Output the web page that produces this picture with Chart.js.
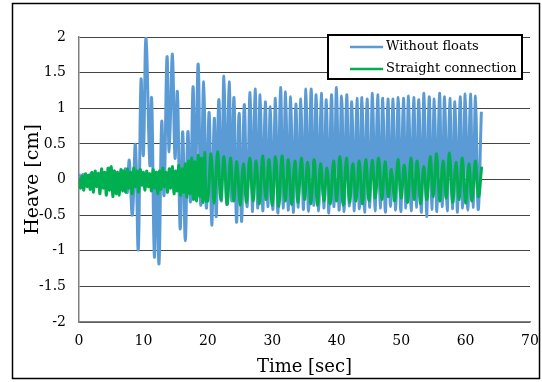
<!DOCTYPE html>
<html>
<head>
<meta charset="utf-8">
<script src="https://cdn.jsdelivr.net/npm/chart.js@4/dist/chart.umd.min.js"></script>
<style>
  html, body { margin: 0; padding: 0; background: #fff; }
  #wrap { position: relative; width: 542px; height: 382px; }
</style>
</head>
<body>
<div id="wrap"><canvas id="c" width="542" height="382"></canvas></div>
<script>
// ---- data ----
const seriesNames = ["Without floats", "Straight connection"];
const xTicks = [0, 10, 20, 30, 40, 50, 60, 70];
const yTicks = [-2, -1.5, -1, -0.5, 0, 0.5, 1, 1.5, 2];

// Without floats (time in s, heave in cm)
const blueT = [0,0.3,0.6,0.9,1.2,1.5,1.8,2.1,2.4,2.7,3.0,3.3,3.6,3.9,4.2,4.5,4.8,5.1,5.4,5.7,6.0,6.3,6.6,6.9,7.2,7.5,
  7.8,8.28,8.75,9.2,9.63,9.99,10.4,11.0,11.28,11.7,12.06,12.42,12.84,13.2,13.66,14.0,14.5,14.9,15.27,15.7,16.1,16.5,16.9,17.3,17.7,18.06,18.5,18.9,19.36,19.77,20.2,20.6,
  21.0,21.3,21.7,22.1,22.5,22.9,23.3,23.7,24.05,24.45,24.85,25.25,25.65,26.1,26.55,26.95,
  27.33,27.72,28.12,28.52,28.91,29.30,29.70,30.10,30.49,30.88,31.28,31.68,32.07,32.46,32.86,33.26,33.65,34.04,34.44,34.84,
  35.23,35.62,36.02,36.42,36.81,37.20,37.60,38.00,38.39,38.78,39.18,39.58,39.97,40.36,40.76,41.16,41.55,41.94,42.34,42.74,
  43.13,43.52,43.92,44.32,44.71,45.13,45.55,45.95,46.35,46.75,47.15,47.55,47.95,48.35,48.75,49.15,49.55,49.95,50.35,50.75,
  51.15,51.55,51.95,52.35,52.75,53.15,53.55,53.95,54.35,54.75,55.15,55.55,55.95,56.35,56.75,57.15,57.55,57.95,58.35,58.75,
  59.15,59.55,59.95,60.35,60.75,61.15,61.55,61.95,62.45];
const blueV = [0.08,-0.04,0.07,-0.06,0.05,-0.08,0.08,-0.05,0.06,-0.09,0.09,-0.08,0.10,-0.09,0.07,-0.12,0.09,-0.10,0.12,-0.08,0.10,-0.12,0.13,-0.10,0.15,-0.18,
  0.27,-0.50,0.49,-0.98,1.40,0.34,2.00,0.20,1.14,-1.08,0.10,-1.18,0.81,-0.22,1.72,0.39,1.76,0.30,1.23,-0.69,0.67,-0.86,0.67,-0.31,1.30,-0.05,1.62,-0.36,1.37,-0.40,0.94,-0.64,
  0.86,-0.52,1.12,-0.30,1.45,-0.35,1.37,-0.30,1.15,-0.60,0.93,-0.59,1.05,-0.38,1.22,-0.45,
  1.27,-0.40,1.19,-0.44,1.09,-0.38,1.02,-0.42,1.14,-0.47,1.29,-0.40,1.23,-0.43,1.16,-0.46,1.06,-0.39,1.13,-0.42,
  1.27,-0.45,1.27,-0.36,1.19,-0.44,1.21,-0.40,1.12,-0.47,1.19,-0.38,1.29,-0.43,1.17,-0.45,1.19,-0.37,1.09,-0.44,
  1.14,-0.41,1.15,-0.46,1.13,-0.39,1.21,-0.44,1.19,-0.40,1.14,-0.46,1.13,-0.38,1.13,-0.43,1.15,-0.45,1.14,-0.40,
  1.17,-0.44,1.15,-0.39,1.12,-0.46,1.21,-0.52,1.16,-0.42,1.13,-0.45,1.21,-0.38,1.16,-0.44,1.14,-0.41,1.09,-0.46,
  1.16,-0.40,1.20,-0.43,1.20,-0.39,1.17,-0.42,0.95];

// Straight connection (time in s, heave in cm)
const greenT = [0,0.25,0.5,0.75,1,1.25,1.5,1.75,2,2.25,2.5,2.75,3,3.25,3.5,3.75,4,4.25,4.5,4.75,
  5,5.25,5.5,5.75,6,6.25,6.5,6.75,7,7.25,7.5,7.75,8,8.25,8.5,8.75,9,9.25,9.5,9.75,
  10,10.25,10.5,10.75,11,11.25,11.5,11.75,12,12.25,12.5,12.75,13,13.25,13.5,13.75,14,14.25,14.5,14.75,
  15,15.25,15.5,15.75,16,16.25,16.5,16.75,17,17.25,17.5,17.75,18,18.25,18.5,18.75,19,19.25,19.5,19.75,
  20,20.5,21,21.5,22,22.5,23,23.5,24,24.5,25,25.5,26,26.5,27,27.5,28,28.5,29,29.5,
  30,30.5,31,31.5,32,32.5,33,33.5,34,34.5,35,35.5,36,36.5,37,37.5,38,38.5,39,39.5,
  40,40.5,41,41.5,42,42.5,43,43.5,44,44.5,45,45.5,46,46.5,47,47.5,48,48.5,49,49.5,
  50,50.5,51,51.5,52,52.5,53,53.5,54,54.5,55,55.5,56,56.5,57,57.5,58,58.5,59,59.5,
  60,60.5,61,61.5,62,62.5];
const greenV = [0.02,-0.12,0.05,-0.15,0.08,-0.10,0.06,-0.14,0.10,-0.18,0.12,-0.10,0.08,-0.20,0.15,-0.12,0.10,-0.22,0.16,-0.15,
  0.18,-0.24,0.12,-0.20,0.10,-0.22,0.14,-0.16,0.12,-0.18,0.15,-0.12,0.10,-0.20,0.16,-0.10,0.12,-0.18,0.14,-0.08,
  0.10,-0.15,0.12,-0.10,0.08,-0.16,0.14,-0.12,0.10,-0.20,0.12,-0.14,0.16,-0.10,0.10,-0.18,0.15,-0.12,0.18,-0.20,
  0.12,-0.16,0.20,-0.22,0.15,-0.18,0.22,-0.25,0.26,-0.20,0.30,-0.28,0.25,-0.30,0.34,-0.24,0.30,-0.32,0.38,-0.30,
  -0.30,0.36,-0.33,0.39,-0.28,0.32,-0.35,0.30,-0.30,0.25,-0.36,0.22,-0.32,0.30,-0.30,0.26,-0.34,0.33,-0.28,0.28,
  -0.36,0.32,-0.38,0.33,-0.30,0.28,-0.35,0.26,-0.32,0.30,-0.28,0.24,-0.34,0.28,-0.36,0.22,-0.30,0.16,-0.34,0.26,
  -0.30,0.32,-0.36,0.30,-0.32,0.22,-0.30,0.26,-0.34,0.28,-0.30,0.27,-0.26,0.30,-0.28,0.25,-0.24,0.14,-0.30,0.28,
  -0.26,0.20,-0.32,0.30,-0.28,0.26,-0.34,0.18,-0.28,0.32,-0.24,0.36,-0.30,0.26,-0.26,0.37,-0.32,0.24,-0.28,0.30,
  -0.33,0.22,-0.30,0.26,-0.24,0.18];

const blueColor = "#5B9BD5";
const greenColor = "#00B050";
const FONT = "'DejaVu Serif', 'Liberation Serif', serif";

function pts(t, v) { return t.map((x, i) => ({ x: x, y: v[i] })); }

const frameAndLegend = {
  id: 'frameAndLegend',
  afterDraw(chart) {
    const ctx = chart.ctx;
    ctx.save();
    // outer frame
    ctx.strokeStyle = '#000';
    ctx.lineWidth = 1.5;
    ctx.strokeRect(12.5, 3.5, 527, 375);
    // legend box
    const lx = 328, ly = 35, lw = 194, lh = 44;
    ctx.fillStyle = '#fff';
    ctx.fillRect(lx, ly, lw, lh);
    ctx.lineWidth = 2;
    ctx.strokeStyle = '#000';
    ctx.strokeRect(lx, ly, lw, lh);
    const items = [
      { text: chart.data.datasets[1].label, color: chart.data.datasets[1].borderColor, y: 47 },
      { text: chart.data.datasets[0].label, color: chart.data.datasets[0].borderColor, y: 69 }
    ];
    ctx.font = "13px " + FONT;
    ctx.textBaseline = 'middle';
    ctx.textAlign = 'left';
    items.forEach(it => {
      ctx.strokeStyle = it.color;
      ctx.lineWidth = 2.5;
      ctx.beginPath();
      ctx.moveTo(350, it.y);
      ctx.lineTo(383, it.y);
      ctx.stroke();
      ctx.fillStyle = '#000';
      ctx.fillText(it.text, 386, it.y);
    });
    ctx.restore();
  }
};

new Chart(document.getElementById('c'), {
  type: 'line',
  data: {
    datasets: [
      { label: seriesNames[1], data: pts(greenT, greenV), borderColor: greenColor, borderWidth: 3,
        pointRadius: 0, tension: 0.4, fill: false, order: 1 },
      { label: seriesNames[0], data: pts(blueT, blueV), borderColor: blueColor, borderWidth: 3,
        pointRadius: 0, tension: 0.4, fill: false, order: 2 }
    ]
  },
  options: {
    responsive: false,
    animation: false,
    devicePixelRatio: 1,
    layout: { padding: { left: 0, right: 12, top: 37, bottom: 0 } },
    plugins: { legend: { display: false }, tooltip: { enabled: false } },
    scales: {
      x: {
        type: 'linear', min: 0, max: 70,
        afterBuildTicks(s) { s.ticks = xTicks.map(v => ({ value: v })); },
        afterFit(s) { s.height = 60; s.paddingRight = 0; s.paddingLeft = 0; },
        grid: { display: false, drawTicks: false },
        border: { display: true, color: '#7f7f7f', width: 1.5 },
        ticks: { padding: 11, color: '#000', font: { family: FONT, size: 14 } },
        title: { display: true, text: 'Time [sec]', color: '#000', font: { family: FONT, size: 18 }, padding: { top: 0, bottom: 4 } }
      },
      y: {
        type: 'linear', min: -2, max: 2,
        afterBuildTicks(s) { s.ticks = yTicks.map(v => ({ value: v })); },
        afterFit(s) { s.width = 79; s.paddingTop = 0; s.paddingBottom = 0; },
        grid: { display: true, color: '#444', lineWidth: 1, drawTicks: false },
        border: { display: true, color: '#7f7f7f', width: 1.5 },
        ticks: { padding: 13, color: '#000', font: { family: FONT, size: 14 }, callback: v => String(v) },
        title: { display: true, text: 'Heave [cm]', color: '#000', font: { family: FONT, size: 19 }, padding: { top: 22, bottom: 0 } }
      }
    }
  },
  plugins: [frameAndLegend]
});
</script>
</body>
</html>
